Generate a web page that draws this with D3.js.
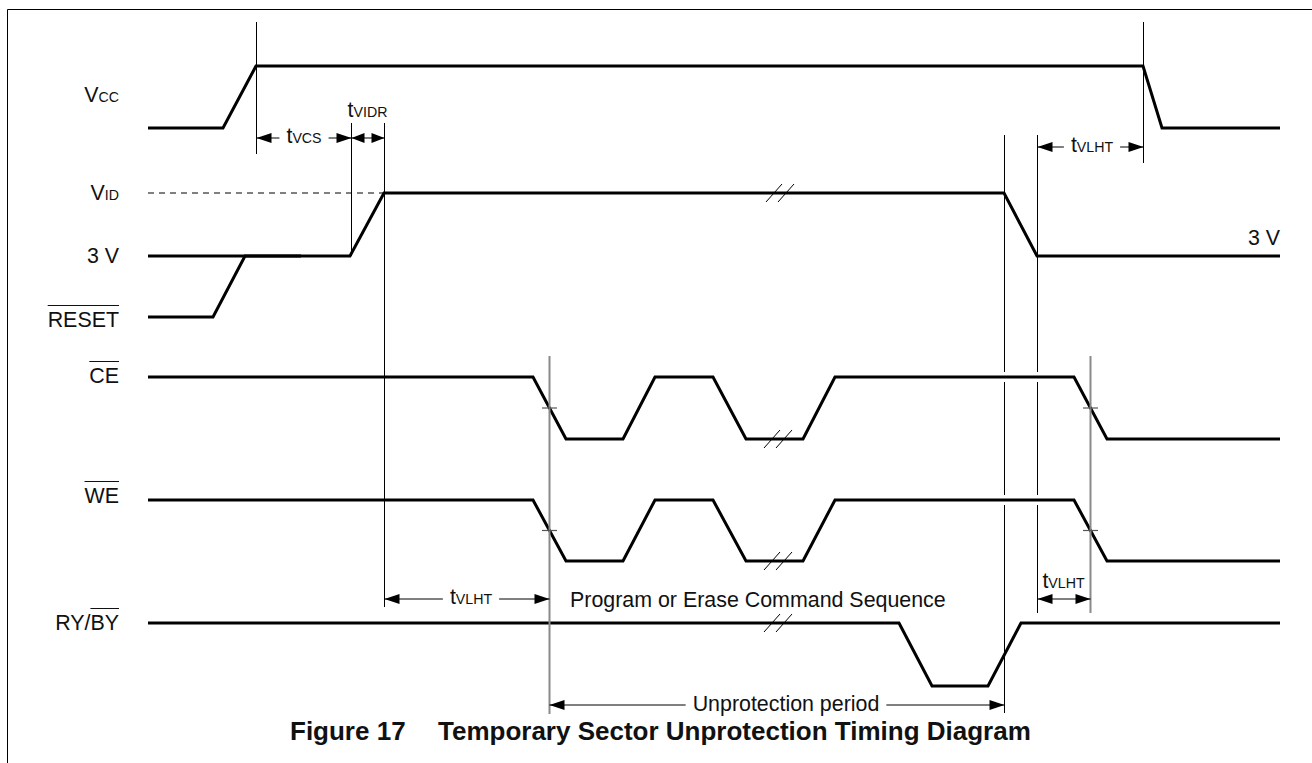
<html>
<head>
<title>Temporary Sector Unprotection Timing Diagram</title>
<script src="https://d3js.org/d3.v7.min.js"></script>
<style>
  body { margin: 0; background: #fff; }
  text { font-family: Arial, "Liberation Sans", sans-serif; fill: #111; }
</style>
</head>
<body>
<svg id="timing" width="1312" height="763"></svg>
<script>
// ---- data: waveforms as [time, level], level 1 = high, 0 = low ----
const vccWave   = [[0,0],[75,0],[108,1],[995,1],[1014,0],[1132,0]];
const vidWave   = [[0,0],[202,0],[236,1],[856,1],[889,0],[1132,0]];
const vidDashed = [[0,1],[236,1]];
const resetWave = [[0,0],[65,0],[97,1],[153,1]];
const ceWave    = [[0,1],[385,1],[418,0],[475,0],[507,1],[565,1],[598,0],[655,0],[687,1],[926,1],[959,0],[1132,0]];
const weWave    = [[0,1],[385,1],[418,0],[475,0],[507,1],[565,1],[598,0],[655,0],[687,1],[926,1],[959,0],[1132,0]];
const rybyWave  = [[0,1],[751,1],[784,0],[840,0],[873,1],[1132,1]];

// timing reference lines
const markerTimes = [108, 203, 236, 856, 889, 995];
const grayMarkerTimes = [401, 942];
// break marks (time, row, level)
const breakMarks = [[632,"vid",1],[630,"ce",0],[630,"we",0],[630,"ry",1]];

// dimension arrows
const spans = [
  {id:"tvcs",  from:108, to:203, main:"t", sub:"VCS"},
  {id:"tvidr", from:203, to:236, main:"t", sub:"VIDR"},
  {id:"tvlht1",from:889, to:995, main:"t", sub:"VLHT"},
  {id:"tvlht2",from:236, to:401, main:"t", sub:"VLHT"},
  {id:"tvlht3",from:889, to:942, main:"t", sub:"VLHT"},
  {id:"unprot",from:401, to:856, main:"Unprotection period", sub:""}
];

const signalLabels = [
  {row:"vcc",   main:"V", sub:"CC"},
  {row:"vid",   main:"V", sub:"ID"},
  {row:"v3",    main:"3 V", sub:""},
  {row:"reset", main:"RESET", sub:"", bar:"all"},
  {row:"ce",    main:"CE", sub:"", bar:"all"},
  {row:"we",    main:"WE", sub:"", bar:"all"},
  {row:"ry",    main:"RY/", sub:"", bar2:"BY"}
];

const titleParts = ["Figure 17", "Temporary Sector Unprotection Timing Diagram"];
const sequenceNote = "Program or Erase Command Sequence";

// ---- layout ----
const svg = d3.select("#timing");
const x = d3.scaleLinear().domain([0, 1132]).range([148, 1280]);

const rows = {
  vcc:   {hi:66,  lo:128},
  vid:   {hi:193, lo:256},
  reset: {hi:256, lo:317},
  ce:    {hi:377, lo:439},
  we:    {hi:500, lo:561},
  ry:    {hi:623, lo:686}
};
const yScale = {};
Object.keys(rows).forEach(k => {
  yScale[k] = d3.scaleLinear().domain([0,1]).range([rows[k].lo, rows[k].hi]);
});

const labelBase = {vcc:102, vid:200, v3:263, reset:327, ce:383, we:503, ry:630};
const labelRight = 119;
const fontMain = 21.4, fontSub = 14.2;

const markerExtent = {108:[22,154], 203:[123,256], 236:[123,607], 856:[135,713], 889:[135,613], 995:[22,163]};
const grayExtent = {401:[356,714], 942:[356,613]};

const spanLayout = {
  tvcs:   {y:138, textAbove:false, labelAt:156},
  tvidr:  {y:138, textAbove:true,  labelAt:219.5, textY:117},
  tvlht1: {y:147, textAbove:false, labelAt:944},
  tvlht2: {y:599, textAbove:false, labelAt:323},
  tvlht3: {y:599, textAbove:true,  labelAt:915.5, textY:588},
  unprot: {y:705, textAbove:false, labelAt:638}
};

// border (only top and left edges visible)
svg.append("path")
  .attr("d", "M7.5,763 V9.5 H1312")
  .attr("fill", "none").attr("stroke", "#000").attr("stroke-width", 1);

// thin black reference lines
const markers = svg.append("g").attr("class", "markers");
markers.selectAll("line").data(markerTimes).join("line")
  .attr("x1", d => Math.round(x(d)) + 0.5).attr("x2", d => Math.round(x(d)) + 0.5)
  .attr("y1", d => markerExtent[d][0]).attr("y2", d => markerExtent[d][1])
  .attr("stroke", "#000").attr("stroke-width", 1);

// small white gaps where the late markers cross CE / WE
[856, 889].forEach(t => {
  ["ce","we"].forEach(r => {
    markers.append("line")
      .attr("x1", Math.round(x(t)) + 0.5).attr("x2", Math.round(x(t)) + 0.5)
      .attr("y1", rows[r].hi - 5).attr("y2", rows[r].hi + 5)
      .attr("stroke", "#fff").attr("stroke-width", 3);
  });
});

// dashed V_ID level
svg.append("path").datum(vidDashed)
  .attr("d", d3.line().x(d => x(d[0])).y(d => yScale.vid(d[1])))
  .attr("fill", "none").attr("stroke", "#000").attr("stroke-width", 1)
  .attr("stroke-dasharray", "6,5");

// waveforms
const waves = [
  {row:"vcc", data:vccWave}, {row:"vid", data:vidWave}, {row:"reset", data:resetWave},
  {row:"ce", data:ceWave}, {row:"we", data:weWave}, {row:"ry", data:rybyWave}
];
svg.append("g").attr("class", "waves").selectAll("path").data(waves).join("path")
  .attr("d", w => d3.line().x(d => x(d[0])).y(d => yScale[w.row](d[1]))(w.data))
  .attr("fill", "none").attr("stroke", "#000").attr("stroke-width", 3)
  .attr("stroke-linejoin", "miter");

// gray reference lines with crossing ticks
const gray = svg.append("g").attr("class", "gray");
gray.selectAll("line.g").data(grayMarkerTimes).join("line").attr("class", "g")
  .attr("x1", d => x(d) + 0.5).attr("x2", d => x(d) + 0.5)
  .attr("y1", d => grayExtent[d][0]).attr("y2", d => grayExtent[d][1])
  .attr("stroke", "#8a8a8a").attr("stroke-width", 2);
grayMarkerTimes.forEach(t => {
  ["ce","we"].forEach(r => {
    gray.append("line")
      .attr("x1", x(t) - 7).attr("x2", x(t) + 8)
      .attr("y1", yScale[r](0.5)).attr("y2", yScale[r](0.5))
      .attr("stroke", "#555").attr("stroke-width", 1.2);
  });
});

// break marks
const brk = svg.append("g").attr("class", "breaks");
breakMarks.forEach(b => {
  const cx = x(b[0]), cy = yScale[b[1]](b[2]);
  [-6, 6].forEach(o => {
    brk.append("line")
      .attr("x1", cx + o - 8).attr("y1", cy + 9)
      .attr("x2", cx + o + 8).attr("y2", cy - 9)
      .attr("stroke", "#000").attr("stroke-width", 1);
  });
});

// arrowheads
function arrowHead(g, px, py, dir, len) {
  // dir = -1 points left, +1 points right; tip at px
  g.append("path")
    .attr("d", `M${px},${py} L${px - dir*len},${py - 5} L${px - dir*len},${py + 5} Z`)
    .attr("fill", "#000");
}

function subText(g, tx, ty, main, sub, anchor, mainSize, subSize) {
  const t = g.append("text").attr("x", tx).attr("y", ty).attr("text-anchor", anchor);
  t.append("tspan").attr("font-size", mainSize).text(main);
  if (sub) t.append("tspan").attr("font-size", subSize).text(sub);
  return t;
}

// dimension arrows
const dims = svg.append("g").attr("class", "dims");
spans.forEach(s => {
  const L = spanLayout[s.id];
  const x1 = Math.round(x(s.from)) + 0.5, x2 = Math.round(x(s.to)) + 0.5;
  const cx = x(L.labelAt);
  const ty = L.textAbove ? L.textY : (s.sub ? L.y + 5 : L.y + 6);
  const t = subText(dims, cx, ty, s.main, s.sub, "middle", fontMain, fontSub);
  const w = t.node().getComputedTextLength();
  const len = (x2 - x1) < 40 ? 13 : 15;
  if (L.textAbove) {
    dims.append("line").attr("x1", x1).attr("x2", x2).attr("y1", L.y).attr("y2", L.y)
      .attr("stroke", "#000").attr("stroke-width", 1);
  } else {
    const gap = 7;
    dims.append("line").attr("x1", x1).attr("x2", cx - w/2 - gap).attr("y1", L.y).attr("y2", L.y)
      .attr("stroke", "#000").attr("stroke-width", 1);
    dims.append("line").attr("x1", cx + w/2 + gap).attr("x2", x2).attr("y1", L.y).attr("y2", L.y)
      .attr("stroke", "#000").attr("stroke-width", 1);
  }
  arrowHead(dims, x1, L.y, -1, len);
  arrowHead(dims, x2, L.y, 1, len);
});

// signal labels
const lab = svg.append("g").attr("class", "labels");
signalLabels.forEach(s => {
  const by = labelBase[s.row];
  const t = subText(lab, labelRight, by, s.main, s.sub, "end", fontMain, fontSub);
  if (s.bar === "all") {
    const w = t.node().getComputedTextLength();
    lab.append("line").attr("x1", labelRight - w).attr("x2", labelRight)
      .attr("y1", by - 21.5).attr("y2", by - 21.5)
      .attr("stroke", "#111").attr("stroke-width", 1);
  }
  if (s.bar2) {
    t.append("tspan").attr("font-size", fontMain).text(s.bar2);
    const w = t.node().getSubStringLength(s.main.length, s.bar2.length);
    lab.append("line").attr("x1", labelRight - w).attr("x2", labelRight)
      .attr("y1", by - 21.5).attr("y2", by - 21.5)
      .attr("stroke", "#111").attr("stroke-width", 1);
  }
});
// 3 V on the right end of the V_ID row
lab.append("text").attr("x", x(1132)).attr("y", 245).attr("text-anchor", "end")
  .attr("font-size", fontMain).text("3 V");

// command sequence note
svg.append("text").attr("x", x(422)).attr("y", 607).attr("font-size", fontMain).text(sequenceNote);

// title
svg.append("text").attr("x", 290).attr("y", 740).attr("font-size", 26).attr("font-weight", "bold")
  .text(titleParts[0]);
svg.append("text").attr("x", 438).attr("y", 740).attr("font-size", 26).attr("font-weight", "bold")
  .text(titleParts[1]);
</script>
</body>
</html>
